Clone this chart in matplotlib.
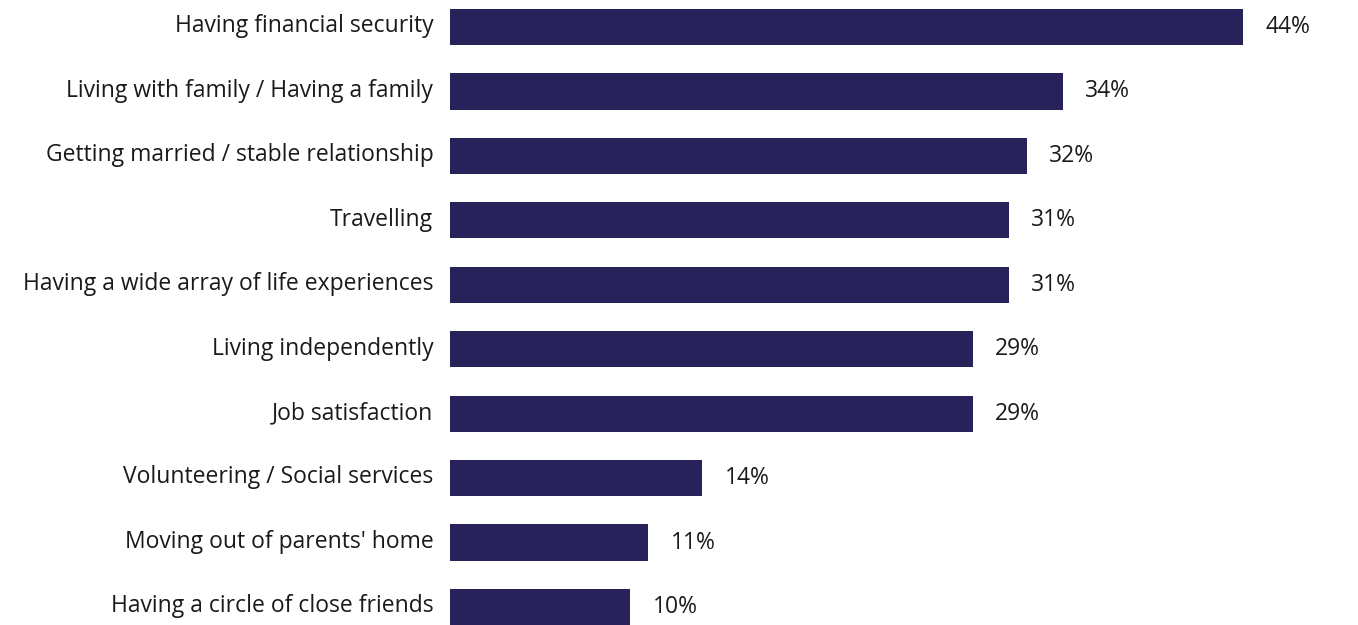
import matplotlib.pyplot as plt

plt.rcParams['font.family'] = ['Open Sans', 'DejaVu Sans']

categories = [
    "Having financial security",
    "Living with family / Having a family",
    "Getting married / stable relationship",
    "Travelling",
    "Having a wide array of life experiences",
    "Living independently",
    "Job satisfaction",
    "Volunteering / Social services",
    "Moving out of parents' home",
    "Having a circle of close friends",
]
values = [44, 34, 32, 31, 31, 29, 29, 14, 11, 10]
value_labels = ["44%", "34%", "32%", "31%", "31%", "29%", "29%", "14%", "11%", "10%"]

bar_color = "#27235a"
text_color = "#1a1a1a"

fig = plt.figure(figsize=(13.58, 6.25), dpi=100)
ax = fig.add_axes([450 / 1358, 0, 908 / 1358, 1])

pos = list(range(len(categories)))
ax.barh(pos, values, height=0.56, color=bar_color)

for p, v, lab, cat in zip(pos, values, value_labels, categories):
    # value to the right of the bar
    ax.annotate(lab, (v, p), xytext=(16, 0), textcoords="offset points",
                va="center", ha="left", fontsize=16.5, color=text_color)
    # category name to the left of the bar
    ax.annotate(cat, (0, p), xytext=(-12, 0.5), textcoords="offset points",
                va="center", ha="right", fontsize=16.5, color=text_color,
                annotation_clip=False)

ax.set_xticks([])
ax.set_yticks([])
ax.set_xlim(0, 908 / 18.02)
ax.set_ylim(9.28, -0.42)
for s in ax.spines.values():
    s.set_visible(False)

fig.savefig("out.png", dpi=100)
